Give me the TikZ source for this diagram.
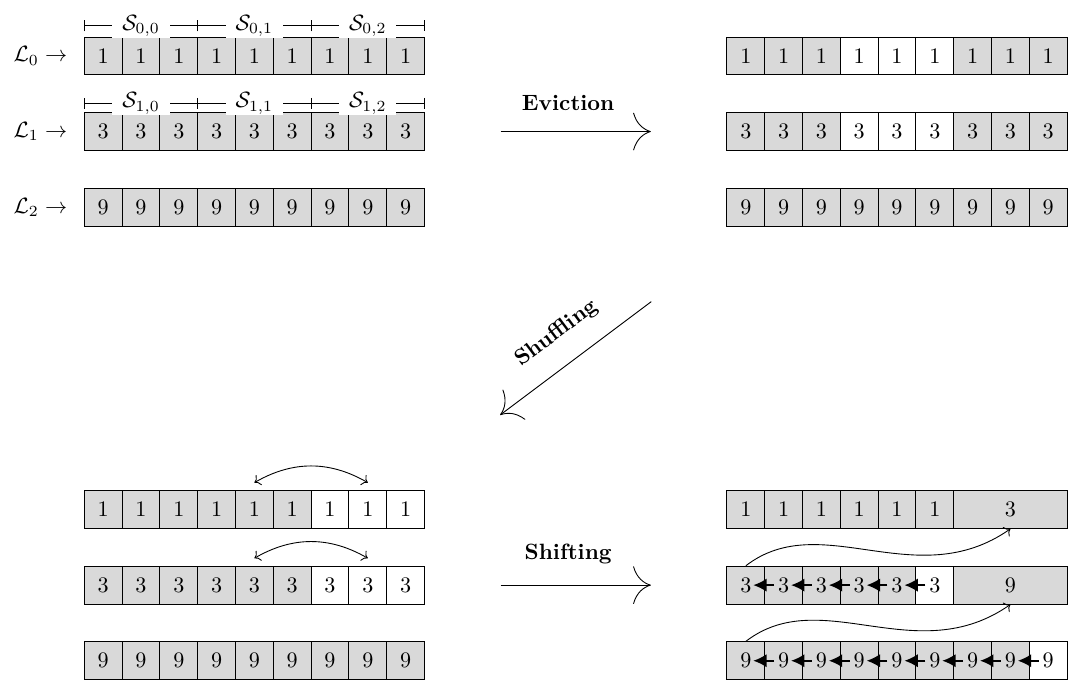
\documentclass[tikz,border=0pt]{standalone}
\usepackage{amsmath, amsfonts}
\usepackage{tikz}
\usetikzlibrary{arrows, arrows.meta, positioning}
\usepackage{xcolor}

\tikzset{
	cell/.style={draw, fill=gray!30, minimum width=0.6cm, minimum height=0.6cm, inner sep=0pt},
	emptycell/.style={cell, fill=white},
	widecell/.style={cell, minimum width=1.8cm},
	segline/.style={{Bar[width=5pt]}-{Bar[width=5pt]}},
	seglabel/.style={midway, fill=white, inner xsep=4.5pt, inner ysep=0.5pt},
	bigarrow/.style={-{To[length=8pt,width=17pt]}},
	movearrow/.style={-{Latex[length=6pt,width=6pt]}, thick}
}

\begin{document}
\begin{tikzpicture}[x=0.6cm, y=0.6cm]
		\useasboundingbox (-2.23,-16.56) rectangle (26.13,1.48);

		\foreach \i in {0,...,8} {
			\node[cell] (ul0-\i) at (\i+0.5, 0) {$1$};
			\node[cell] (ul1-\i) at (\i+0.5, -2) {$3$};
			\node[cell] (ul2-\i) at (\i+0.5, -4) {$9$};
		}
		\node[left=4pt of ul0-0] (lab0) {$\mathcal{L}_0 \rightarrow$};
		\node[left=4pt of ul1-0] (lab1) {$\mathcal{L}_1 \rightarrow$};
		\node[left=4pt of ul2-0] (lab2) {$\mathcal{L}_2 \rightarrow$};

		\foreach \s/\a/\b in {0/0/2, 1/3/5, 2/6/8} {
			\draw[segline] ([yshift=0.17cm]ul0-\a.north west) -- ([yshift=0.17cm]ul0-\b.north east)
				node[seglabel] (seg0-\s) {$\mathcal{S}_{0,\s}$};
			\draw[segline] ([yshift=0.14cm]ul1-\a.north west) -- ([yshift=0.14cm]ul1-\b.north east)
				node[seglabel] (seg1-\s) {$\mathcal{S}_{1,\s}$};
		}

		\foreach \i in {0,1,2,6,7,8} {
			\node[cell] (ur0-\i) at (\i+17.5, 0) {$1$};
			\node[cell] (ur1-\i) at (\i+17.5, -2) {$3$};
		}
		\foreach \i in {3,4,5} {
			\node[emptycell] (ur0-\i) at (\i+17.5, 0) {$1$};
			\node[emptycell] (ur1-\i) at (\i+17.5, -2) {$3$};
		}
		\foreach \i in {0,...,8}
			\node[cell] (ur2-\i) at (\i+17.5, -4) {$9$};

		\draw[bigarrow] ([xshift=1.2cm]ul1-8.east) -- ([xshift=-1.2cm]ur1-0.west)
			node[pos=0.45, above=6pt] (evict) {\textbf{Eviction}};

		\coordinate (shufstart) at (15,-6.5);
		\coordinate (shufend) at (11,-9.5);
		\draw[bigarrow] (shufstart) -- (shufend)
			node[midway, sloped, above=6pt] (shuffle) {\textbf{Shuffling}};

		\foreach \i in {0,...,5} {
			\node[cell] (dl0-\i) at (\i+0.5, -12) {$1$};
			\node[cell] (dl1-\i) at (\i+0.5, -14) {$3$};
		}
		\foreach \i in {6,7,8} {
			\node[emptycell] (dl0-\i) at (\i+0.5, -12) {$1$};
			\node[emptycell] (dl1-\i) at (\i+0.5, -14) {$3$};
		}
		\foreach \i in {0,...,8}
			\node[cell] (dl2-\i) at (\i+0.5, -16) {$9$};

		\draw[<->] ([yshift=0.12cm]dl0-4.north) to[bend left=30] ([yshift=0.12cm]dl0-7.north);
		\draw[<->] ([yshift=0.12cm]dl1-4.north) to[bend left=30] ([yshift=0.12cm]dl1-7.north);

		\foreach \i in {0,...,5}
			\node[cell] (dr0-\i) at (\i+17.5, -12) {$1$};
		\node[widecell] (dr0-w) at (24.5, -12) {$3$};
		\foreach \i in {0,...,4}
			\node[cell] (dr1-\i) at (\i+17.5, -14) {$3$};
		\node[emptycell] (dr1-5) at (22.5, -14) {$3$};
		\node[widecell] (dr1-w) at (24.5, -14) {$9$};
		\foreach \i in {0,...,7}
			\node[cell] (dr2-\i) at (\i+17.5, -16) {$9$};
		\node[emptycell] (dr2-8) at (25.5, -16) {$9$};

		\draw[bigarrow] ([xshift=1.2cm]dl1-8.east) -- ([xshift=-1.2cm]dr1-0.west)
			node[pos=0.45, above=6pt] (shift) {\textbf{Shifting}};

		\foreach \i [count=\j from 0] in {1,...,5}
			\draw[movearrow] ([xshift=-4.3pt]dr1-\i.center) -- ([xshift=3.4pt]dr1-\j.center);
		\foreach \i [count=\j from 0] in {1,...,8}
			\draw[movearrow] ([xshift=-4.3pt]dr2-\i.center) -- ([xshift=3.4pt]dr2-\j.center);

		\draw[->] (dr1-0.north) .. controls +(2,1.54) and +(-2.5,-1.75) .. (dr0-w.south);
		\draw[->] (dr2-0.north) .. controls +(2,1.54) and +(-2.5,-1.75) .. (dr1-w.south);
	\end{tikzpicture}
\end{document}
